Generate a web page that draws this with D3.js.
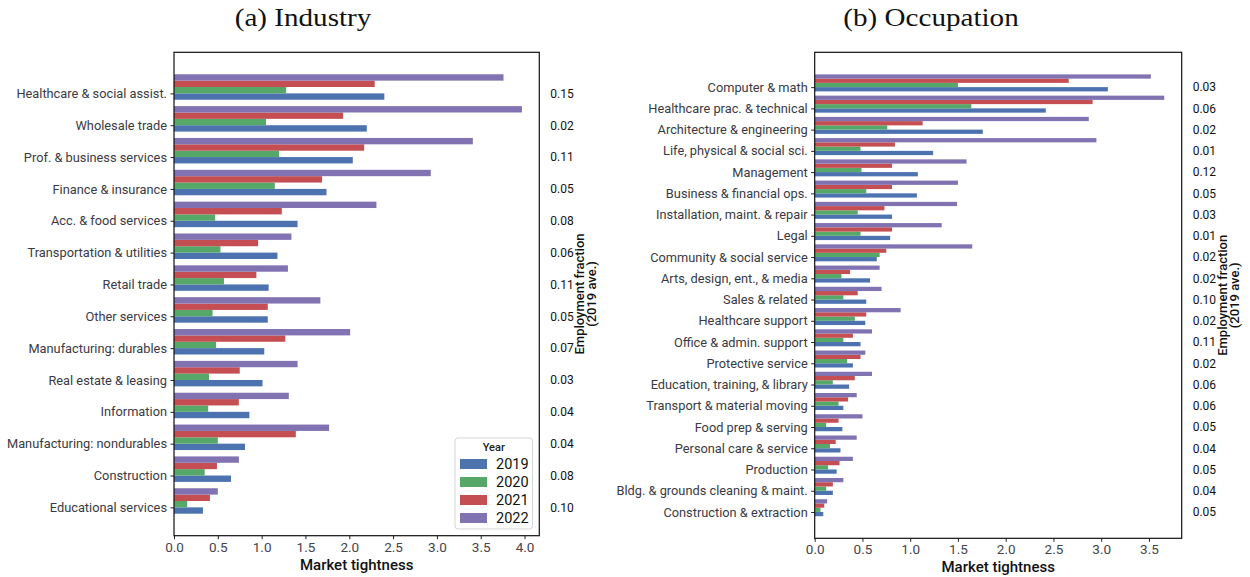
<!DOCTYPE html>
<html>
<head>
<meta charset="utf-8">
<script src="https://cdn.jsdelivr.net/npm/d3@7"></script>
<style>
  html, body { margin: 0; padding: 0; background: #fff; }
  svg { display: block; }
  .tick text { font-family: Roboto, "Liberation Sans", sans-serif; }
</style>
</head>
<body>
<svg id="chart" width="1250" height="577"></svg>
<script>
// ---- Panel (a): industries ----
const industries = [
  "Healthcare & social assist.", "Wholesale trade", "Prof. & business services",
  "Finance & insurance", "Acc. & food services", "Transportation & utilities",
  "Retail trade", "Other services", "Manufacturing: durables",
  "Real estate & leasing", "Information", "Manufacturing: nondurables",
  "Construction", "Educational services"
];
const industry2019 = [2.40, 2.20, 2.04, 1.74, 1.41, 1.18, 1.08, 1.07, 1.03, 1.01, 0.86, 0.81, 0.65, 0.33];
const industry2020 = [1.28, 1.05, 1.20, 1.15, 0.47, 0.53, 0.57, 0.44, 0.48, 0.40, 0.39, 0.50, 0.35, 0.15];
const industry2021 = [2.29, 1.93, 2.17, 1.69, 1.23, 0.96, 0.94, 1.07, 1.27, 0.75, 0.74, 1.39, 0.49, 0.41];
const industry2022 = [3.76, 3.97, 3.41, 2.93, 2.31, 1.34, 1.30, 1.67, 2.01, 1.41, 1.31, 1.77, 0.74, 0.50];
const industryEmployment = ["0.15", "0.02", "0.11", "0.05", "0.08", "0.06", "0.11", "0.05", "0.07", "0.03", "0.04", "0.04", "0.08", "0.10"];

// ---- Panel (b): occupations ----
const occupations = [
  "Computer & math", "Healthcare prac. & technical", "Architecture & engineering",
  "Life, physical & social sci.", "Management", "Business & financial ops.",
  "Installation, maint. & repair", "Legal", "Community & social service",
  "Arts, design, ent., & media", "Sales & related", "Healthcare support",
  "Office & admin. support", "Protective service", "Education, training, & library",
  "Transport & material moving", "Food prep & serving", "Personal care & service",
  "Production", "Bldg. & grounds cleaning & maint.", "Construction & extraction"
];
const occupation2019 = [3.07, 2.42, 1.76, 1.24, 1.08, 1.07, 0.81, 0.79, 0.65, 0.58, 0.54, 0.53, 0.48, 0.40, 0.36, 0.30, 0.29, 0.27, 0.23, 0.19, 0.09];
const occupation2020 = [1.50, 1.64, 0.76, 0.48, 0.49, 0.54, 0.45, 0.48, 0.68, 0.28, 0.30, 0.42, 0.30, 0.34, 0.19, 0.25, 0.12, 0.16, 0.14, 0.12, 0.06];
const occupation2021 = [2.66, 2.91, 1.13, 0.84, 0.81, 0.81, 0.73, 0.81, 0.75, 0.37, 0.45, 0.54, 0.40, 0.48, 0.42, 0.35, 0.25, 0.22, 0.26, 0.19, 0.10];
const occupation2022 = [3.52, 3.66, 2.87, 2.95, 1.59, 1.50, 1.49, 1.33, 1.65, 0.68, 0.70, 0.90, 0.60, 0.53, 0.60, 0.44, 0.50, 0.44, 0.40, 0.30, 0.13];
const occupationEmployment = ["0.03", "0.06", "0.02", "0.01", "0.12", "0.05", "0.03", "0.01", "0.02", "0.02", "0.10", "0.02", "0.11", "0.02", "0.06", "0.06", "0.05", "0.04", "0.05", "0.04", "0.05"];

const years = ["2019", "2020", "2021", "2022"];
const yearColors = ["#4C72B0", "#55A868", "#C44E52", "#8172B2"];
const xTicks = [0, 0.5, 1, 1.5, 2, 2.5, 3, 3.5, 4];

const svg = d3.select("#chart");
const sansFont = "Roboto, 'Liberation Sans', sans-serif";
const serifFont = "'Liberation Serif', 'DejaVu Serif', serif";

function drawPanel(opts) {
  const { categories, series, employment, box, title, titleX, legend } = opts;
  const n = categories.length;
  const barH = 0.2;
  // bars occupy [i - 0.6, i + 0.2]; 5% padding on the data span
  const lo = -0.6, hi = (n - 1) + 0.2;
  const pad = 0.05 * (hi - lo);
  const y = d3.scaleLinear().domain([lo - pad, hi + pad]).range([box.top, box.bottom]);
  const xMax = d3.max(series.flat()) * 1.05;
  const x = d3.scaleLinear().domain([0, xMax]).range([box.left, box.right]);

  const g = svg.append("g");

  // bars: 2019 sits just below the category tick, later years stack upward
  series.forEach((vals, k) => {
    g.append("g").selectAll("rect").data(vals).join("rect")
      .attr("x", x(0))
      .attr("y", (d, i) => y(i - barH * k))
      .attr("width", d => x(d) - x(0))
      .attr("height", y(barH) - y(0))
      .attr("fill", yearColors[k]);
  });

  // x axis
  const xAxis = g.append("g")
    .attr("transform", `translate(0,${box.bottom})`)
    .call(d3.axisBottom(x).tickValues(xTicks.filter(t => t <= xMax)).tickFormat(d3.format(".1f")).tickSize(3.5).tickPadding(3));
  xAxis.select(".domain").remove();
  xAxis.selectAll(".tick line").attr("stroke", "#222").attr("stroke-width", 1);
  xAxis.selectAll(".tick text").attr("font-size", 13.5).attr("fill", "#44444e");

  // y axis with category names
  const yAxis = g.append("g")
    .attr("transform", `translate(${box.left},0)`)
    .call(d3.axisLeft(y).tickValues(d3.range(n)).tickFormat(i => categories[i]).tickSize(3.5).tickPadding(3.5));
  yAxis.select(".domain").remove();
  yAxis.selectAll(".tick line").attr("stroke", "#222").attr("stroke-width", 1);
  yAxis.selectAll(".tick text").attr("font-size", 12.8).attr("fill", "#3a3a44");

  // right-hand employment fractions
  const yRight = g.append("g")
    .attr("transform", `translate(${box.right},0)`)
    .call(d3.axisRight(y).tickValues(d3.range(n)).tickFormat(i => employment[i]).tickSize(0).tickPadding(11));
  yRight.select(".domain").remove();
  yRight.selectAll(".tick text").attr("font-size", 12).attr("fill", "#111");

  // frame
  g.append("rect")
    .attr("x", box.left).attr("y", box.top)
    .attr("width", box.right - box.left).attr("height", box.bottom - box.top)
    .attr("fill", "none").attr("stroke", "#111").attr("stroke-width", 1.2);

  // axis labels
  g.append("text")
    .attr("x", (box.left + box.right) / 2).attr("y", box.bottom + 34)
    .attr("text-anchor", "middle")
    .attr("font-family", sansFont).attr("font-size", 15).attr("font-weight", 500)
    .attr("fill", "#111")
    .text("Market tightness");

  const ry = g.append("text")
    .attr("transform", `translate(${box.right + 45},${(box.top + box.bottom) / 2}) rotate(-90)`)
    .attr("text-anchor", "middle")
    .attr("font-family", sansFont).attr("font-size", 13).attr("font-weight", 500)
    .attr("fill", "#111");
  ry.append("tspan").attr("x", 0).attr("dy", 0).text("Employment fraction");
  ry.append("tspan").attr("x", 0).attr("dy", 12).text("(2019 ave.)");

  // panel title (serif, slightly widened)
  g.append("text")
    .attr("transform", `translate(${titleX},26) scale(1.12,1)`)
    .attr("text-anchor", "middle")
    .attr("font-family", serifFont).attr("font-size", 26)
    .attr("fill", "#111")
    .text(title);

  if (legend) {
    const L = legend;
    const lg = g.append("g").attr("transform", `translate(${L.x},${L.y})`);
    lg.append("rect")
      .attr("width", L.w).attr("height", L.h).attr("rx", 3)
      .attr("fill", "#fff").attr("stroke", "#d6d6d6").attr("stroke-width", 1);
    lg.append("text")
      .attr("x", L.w / 2).attr("y", 13)
      .attr("text-anchor", "middle")
      .attr("font-family", sansFont).attr("font-size", 11).attr("font-weight", 500)
      .attr("fill", "#222")
      .text("Year");
    years.forEach((yr, k) => {
      const cy = 26 + k * 18;
      lg.append("rect")
        .attr("x", 5).attr("y", cy - 5).attr("width", 27).attr("height", 10)
        .attr("fill", yearColors[k]);
      lg.append("text")
        .attr("x", 41).attr("y", cy + 5)
        .attr("font-family", sansFont).attr("font-size", 14.5)
        .attr("fill", "#111")
        .text(yr);
    });
  }
}

drawPanel({
  categories: industries,
  series: [industry2019, industry2020, industry2021, industry2022],
  employment: industryEmployment,
  box: { left: 174, right: 539.3, top: 52.3, bottom: 535.7 },
  title: "(a) Industry",
  titleX: 303,
  legend: { x: 455, y: 438, w: 77.5, h: 91 }
});

drawPanel({
  categories: occupations,
  series: [occupation2019, occupation2020, occupation2021, occupation2022],
  employment: occupationEmployment,
  box: { left: 814.7, right: 1181.7, top: 52.3, bottom: 538.3 },
  title: "(b) Occupation",
  titleX: 931,
  legend: null
});
</script>
</body>
</html>
